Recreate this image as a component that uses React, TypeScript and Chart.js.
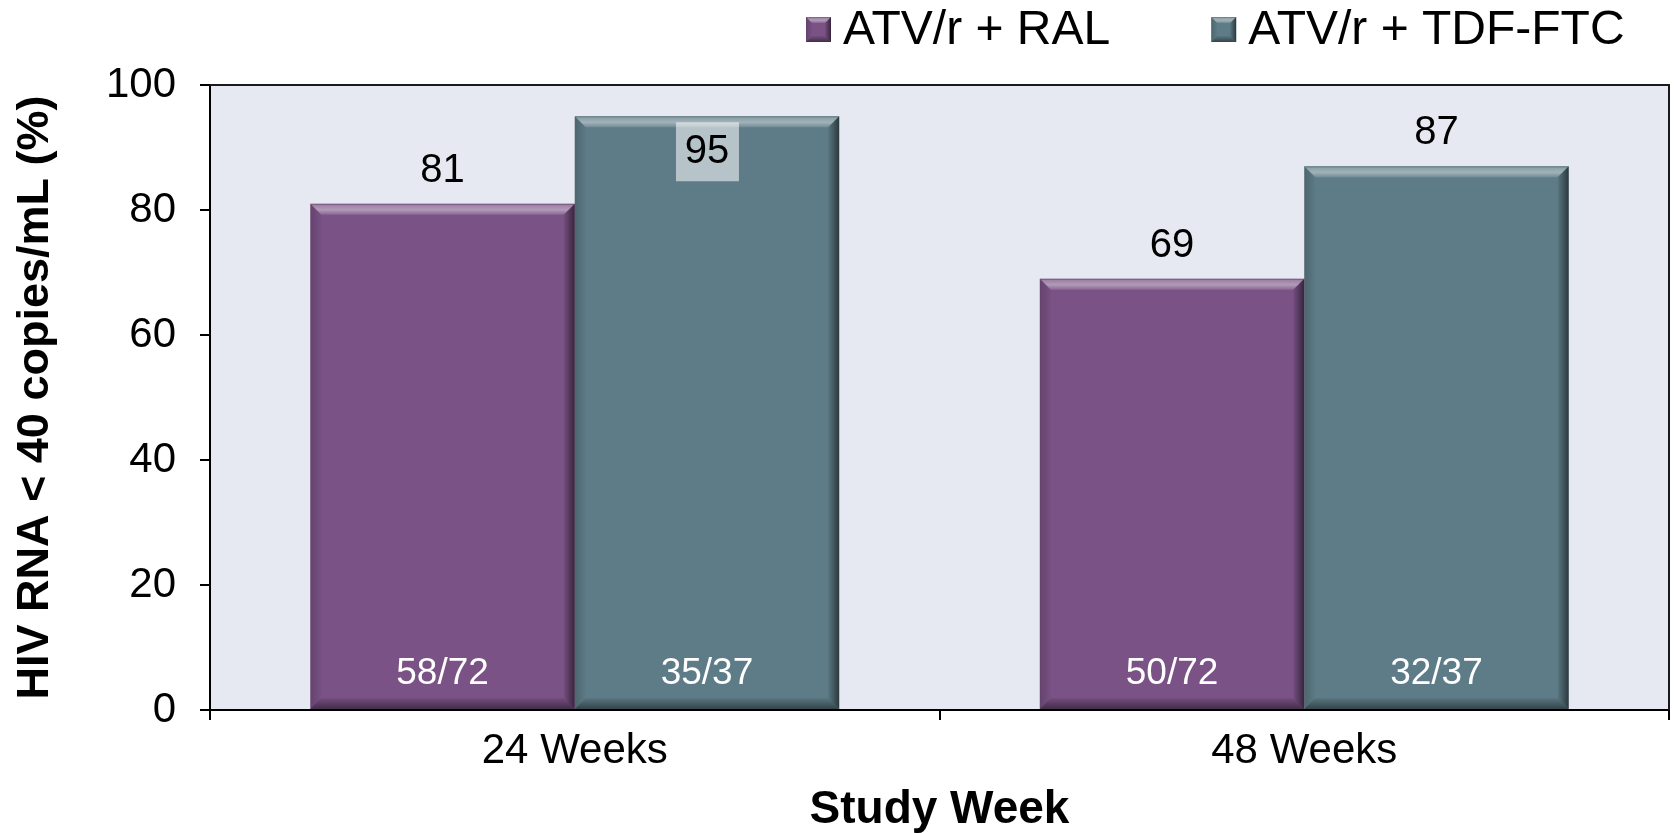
import React, { useEffect, useRef } from 'react';
import { Chart, registerables } from 'chart.js';

Chart.register(...registerables);

const categories = ['24 Weeks', '48 Weeks'];
const seriesNames = ['ATV/r + RAL', 'ATV/r + TDF-FTC'];
const ralValues = [81, 69];
const tdfValues = [95, 87];
const ralCounts = ['58/72', '50/72'];
const tdfCounts = ['35/37', '32/37'];
const tdfBoxedLabel = [true, false];
const ralBoxedLabel = [false, false];
const yMin = 0;
const yMax = 100;
const yStep = 20;

const FONT = '"Liberation Sans", Arial, Helvetica, sans-serif';
const PURPLE = '#7A5285';
const TEAL = '#5E7C87';
const PLOT_BG = '#E6E9F1';

function bevel(ctx: CanvasRenderingContext2D, l: number, t: number, r: number, b: number, s: number) {
  const poly = (pts: number[][], fill: string | CanvasGradient) => {
    ctx.beginPath();
    ctx.moveTo(pts[0][0], pts[0][1]);
    for (let i = 1; i < pts.length; i++) ctx.lineTo(pts[i][0], pts[i][1]);
    ctx.closePath();
    ctx.fillStyle = fill;
    ctx.fill();
  };
  const gTop = ctx.createLinearGradient(0, t, 0, t + s);
  gTop.addColorStop(0, 'rgba(40,40,40,0.25)');
  gTop.addColorStop(0.15, 'rgba(255,255,255,0.28)');
  gTop.addColorStop(0.55, 'rgba(255,255,255,0.42)');
  gTop.addColorStop(1, 'rgba(255,255,255,0.12)');
  poly([[l, t], [r, t], [r - s, t + s], [l + s, t + s]], gTop);
  const gLeft = ctx.createLinearGradient(l, 0, l + s, 0);
  gLeft.addColorStop(0, 'rgba(0,0,0,0.18)');
  gLeft.addColorStop(1, 'rgba(0,0,0,0.02)');
  poly([[l, t], [l + s, t + s], [l + s, b - s], [l, b]], gLeft);
  const gRight = ctx.createLinearGradient(r - s, 0, r, 0);
  gRight.addColorStop(0, 'rgba(0,0,0,0.05)');
  gRight.addColorStop(1, 'rgba(0,0,0,0.55)');
  poly([[r, t], [r, b], [r - s, b - s], [r - s, t + s]], gRight);
  const gBot = ctx.createLinearGradient(0, b - s, 0, b);
  gBot.addColorStop(0, 'rgba(0,0,0,0.05)');
  gBot.addColorStop(1, 'rgba(0,0,0,0.45)');
  poly([[l, b], [r, b], [r - s, b - s], [l + s, b - s]], gBot);
}

const decorPlugin = {
  id: 'decor',
  beforeDraw(chart: any) {
    const { ctx, chartArea: a } = chart;
    ctx.save();
    ctx.fillStyle = PLOT_BG;
    ctx.fillRect(a.left, a.top, a.right - a.left, a.bottom - a.top);
    ctx.restore();
  },
  afterDatasetsDraw(chart: any) {
    const { ctx } = chart;
    const counts = [ralCounts, tdfCounts];
    const boxed = [ralBoxedLabel, tdfBoxedLabel];
    ctx.save();
    chart.data.datasets.forEach((ds: any, di: number) => {
      const meta = chart.getDatasetMeta(di);
      meta.data.forEach((bar: any, i: number) => {
        const { x, y, base, width } = bar.getProps(['x', 'y', 'base', 'width'], true);
        const l = x - width / 2;
        const r = x + width / 2;
        bevel(ctx, l, y, r, base, 11);
        ctx.font = `40px ${FONT}`;
        ctx.textAlign = 'center';
        ctx.textBaseline = 'middle';
        const txt = String(ds.data[i]);
        if (boxed[di][i]) {
          const cy = y + 35;
          ctx.fillStyle = 'rgba(255,255,255,0.55)';
          ctx.fillRect(x - 31, cy - 29, 63, 59);
          ctx.fillStyle = '#000';
          ctx.fillText(txt, x, cy + 1);
        } else {
          ctx.fillStyle = '#000';
          ctx.fillText(txt, x, y - 33);
        }
        ctx.font = `37px ${FONT}`;
        ctx.fillStyle = '#FFFFFF';
        ctx.fillText(counts[di][i], x, base - 35);
      });
    });
    ctx.restore();
  },
  afterDraw(chart: any) {
    const { ctx, chartArea: a } = chart;
    ctx.save();
    ctx.strokeStyle = '#1a1a1a';
    ctx.lineWidth = 2;
    ctx.beginPath();
    ctx.moveTo(a.left, a.top);
    ctx.lineTo(a.right, a.top);
    ctx.lineTo(a.right, a.bottom);
    ctx.stroke();
    const items = chart.data.datasets.map((d: any) => ({ label: d.label, color: d.backgroundColor }));
    ctx.font = `48px ${FONT}`;
    ctx.textBaseline = 'middle';
    ctx.textAlign = 'left';
    let x = 806;
    const boxTop = 17;
    const boxSize = 25;
    items.forEach((it: any) => {
      ctx.fillStyle = it.color;
      ctx.fillRect(x, boxTop, boxSize, boxSize);
      bevel(ctx, x, boxTop, x + boxSize, boxTop + boxSize, 6);
      const tx = x + boxSize + 12;
      ctx.fillStyle = '#000';
      ctx.fillText(it.label, tx, 31);
      x = tx + ctx.measureText(it.label).width + 101;
    });
    ctx.restore();
  },
};

export default function App() {
  const ref = useRef<HTMLCanvasElement | null>(null);
  useEffect(() => {
    if (!ref.current) return;
    const chart = new Chart(ref.current, {
      type: 'bar',
      data: {
        labels: categories,
        datasets: [
          { label: seriesNames[0], data: ralValues, backgroundColor: PURPLE, borderWidth: 0 },
          { label: seriesNames[1], data: tdfValues, backgroundColor: TEAL, borderWidth: 0 },
        ],
      },
      options: {
        responsive: false,
        animation: false,
        devicePixelRatio: 1,
        layout: { padding: { top: 85, right: 5, bottom: 0, left: 0 } },
        datasets: { bar: { categoryPercentage: 0.725, barPercentage: 1.0 } },
        plugins: { legend: { display: false }, tooltip: { enabled: false }, title: { display: false } },
        scales: {
          x: {
            type: 'category',
            offset: true,
            grid: { offset: true, drawOnChartArea: false, drawTicks: true, tickLength: 10, color: '#000', lineWidth: 2 },
            border: { display: true, color: '#000', width: 2 },
            ticks: { color: '#000', font: { family: FONT, size: 42 }, padding: 6 },
            title: {
              display: true,
              text: 'Study Week',
              color: '#000',
              font: { family: FONT, size: 46, weight: 'bold', lineHeight: 1 },
              padding: { top: 0, bottom: 0 },
            },
            afterFit: (s: any) => { s.height = 123; },
          },
          y: {
            min: yMin,
            max: yMax,
            grid: { drawOnChartArea: false, drawTicks: true, tickLength: 10, color: '#000', lineWidth: 2 },
            border: { display: true, color: '#000', width: 2 },
            ticks: { stepSize: yStep, color: '#000', font: { family: FONT, size: 42 }, padding: 24 },
            title: {
              display: true,
              text: 'HIV RNA < 40 copies/mL (%)',
              color: '#000',
              font: { family: FONT, size: 45, weight: 'bold', lineHeight: 1.2 },
              padding: { top: 9, bottom: 0 },
            },
            afterFit: (s: any) => { s.width = 210; },
          },
        },
      },
      plugins: [decorPlugin],
    } as any);
    return () => chart.destroy();
  }, []);
  return (
    <div style={{ position: 'absolute', left: 0, top: 0, width: 1674, height: 833, background: '#fff' }}>
      <canvas ref={ref} width={1674} height={833} style={{ display: 'block' }} />
    </div>
  );
}
